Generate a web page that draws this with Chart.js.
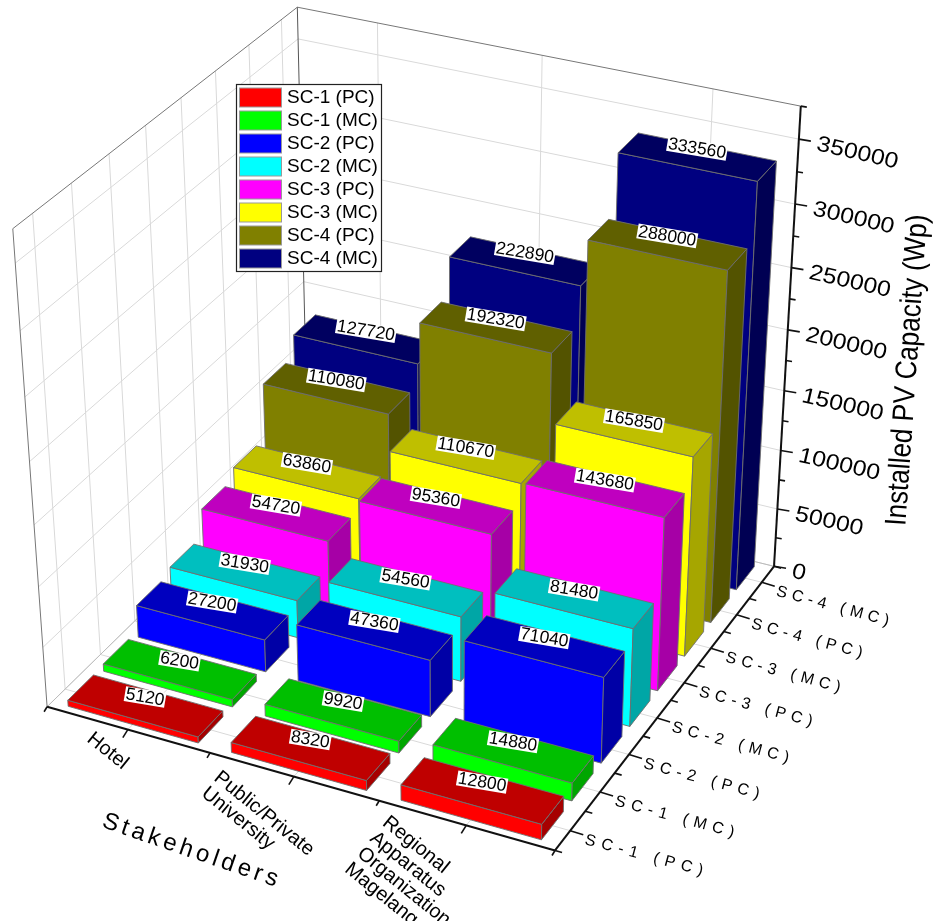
<!DOCTYPE html>
<html>
<head>
<meta charset="utf-8">
<title>Installed PV Capacity</title>
<script src="https://cdn.jsdelivr.net/npm/chart.js@4"></script>
<style>
  html, body { margin: 0; padding: 0; background: #fff; }
  canvas { display: block; }
</style>
</head>
<body>
<canvas id="grafico" width="940" height="921"></canvas>
<script>
const categories = ['Hotel', 'Public/Private University', 'Regional Apparatus Organization Magelang'];
const seriesNames = ['SC-1 (PC)', 'SC-1 (MC)', 'SC-2 (PC)', 'SC-2 (MC)', 'SC-3 (PC)', 'SC-3 (MC)', 'SC-4 (PC)', 'SC-4 (MC)'];
const sc1pc = [5120, 8320, 12800];
const sc1mc = [6200, 9920, 14880];
const sc2pc = [27200, 47360, 71040];
const sc2mc = [31930, 54560, 81480];
const sc3pc = [54720, 95360, 143680];
const sc3mc = [63860, 110670, 165850];
const sc4pc = [110080, 192320, 288000];
const sc4mc = [127720, 222890, 333560];
const seriesValues = [sc1pc, sc1mc, sc2pc, sc2mc, sc3pc, sc3mc, sc4pc, sc4mc];
const seriesColors = ['#ff0000', '#00ff00', '#0000ff', '#00ffff', '#ff00ff', '#ffff00', '#808000', '#000080'];
const yMax = 375000;
const yStep = 25000;

const FONT = '"Liberation Sans", Arial, sans-serif';
const BAR_WIDTH = 0.8;   // share of a category cell
const BAR_DEPTH = 0.72;  // share of a series cell

// corners of the box on the page: [u, v, w, px, py], used to fit the camera
const camPoints = [
  [0, 0, 0, 46, 705], [1, 0, 0, 555, 852], [1, 1, 0, 774, 564], [0, 1, 0, 309, 454],
  [0, 0, 1, 14, 229], [1, 1, 1, 801, 107], [0, 1, 1, 296, 6],
  [1, 1, 200000 / 375000, 788, 330], [1, 1, 50000 / 375000, 777, 509]
];

function fitCamera(points) {
  const n = 11;
  const A = [], b = [];
  for (let i = 0; i < n; i++) { A.push(new Array(n).fill(0)); b.push(0); }
  const add = (row, val) => {
    for (let i = 0; i < n; i++) {
      b[i] += row[i] * val;
      for (let j = 0; j < n; j++) A[i][j] += row[i] * row[j];
    }
  };
  points.forEach(([u, v, w, px, py]) => {
    const x = px / 1000, y = py / 1000;
    add([u, v, w, 1, 0, 0, 0, 0, -x * u, -x * v, -x * w], x);
    add([0, 0, 0, 0, u, v, w, 1, -y * u, -y * v, -y * w], y);
  });
  for (let c = 0; c < n; c++) {
    let p = c;
    for (let r = c + 1; r < n; r++) if (Math.abs(A[r][c]) > Math.abs(A[p][c])) p = r;
    [A[c], A[p]] = [A[p], A[c]];
    [b[c], b[p]] = [b[p], b[c]];
    for (let r = 0; r < n; r++) {
      if (r === c) continue;
      const f = A[r][c] / A[c][c];
      for (let k = c; k < n; k++) A[r][k] -= f * A[c][k];
      b[r] -= f * b[c];
    }
  }
  return b.map((val, i) => val / A[i][i]);
}
const cam = fitCamera(camPoints);

function project(u, v, w) {
  const d = cam[8] * u + cam[9] * v + cam[10] * w + 1;
  return [
    1000 * (cam[0] * u + cam[1] * v + cam[2] * w + cam[3]) / d,
    1000 * (cam[4] * u + cam[5] * v + cam[6] * w + cam[7]) / d
  ];
}

// scale helpers: position on each scale as a 0..1 share
function uOf(chart, idx) { const s = chart.scales.x; return (s.getPixelForValue(idx) - s.left) / s.width; }
function vOf(chart, idx) { const s = chart.scales.z; return (s.getPixelForValue(idx) - s.left) / s.width; }
function wOf(chart, val) { const s = chart.scales.y; return (s.bottom - s.getPixelForValue(val)) / s.height; }

function shade(hex, f) {
  const n = parseInt(hex.slice(1), 16);
  return 'rgb(' + Math.round((n >> 16 & 255) * f) + ',' + Math.round((n >> 8 & 255) * f) + ',' + Math.round((n & 255) * f) + ')';
}

function face(ctx, pts, color) {
  ctx.beginPath();
  pts.forEach((p, i) => i ? ctx.lineTo(p[0], p[1]) : ctx.moveTo(p[0], p[1]));
  ctx.closePath();
  ctx.fillStyle = color;
  ctx.fill();
  ctx.strokeStyle = '#6e6e6e';
  ctx.lineWidth = 0.9;
  ctx.stroke();
}

function line(ctx, a, b, color, width) {
  ctx.beginPath();
  ctx.moveTo(a[0], a[1]);
  ctx.lineTo(b[0], b[1]);
  ctx.strokeStyle = color;
  ctx.lineWidth = width;
  ctx.stroke();
}

// bar type that draws each value as a box in the projected space
class Bar3dController extends Chart.BarController {
  draw() {
    const chart = this.chart, ctx = chart.ctx;
    const color = this.getDataset().backgroundColor;
    const du = BAR_WIDTH / categories.length / 2;
    const dv = BAR_DEPTH / seriesNames.length / 2;
    const v = vOf(chart, this.index);
    ctx.save();
    for (let i = 0; i < categories.length; i++) {
      const u = uOf(chart, i);
      const w = wOf(chart, this.getParsed(i).y);
      const p = (a, b, c) => project(u + a * du, v + b * dv, c);
      face(ctx, [p(-1, -1, 0), p(1, -1, 0), p(1, -1, w), p(-1, -1, w)], color);
      face(ctx, [p(1, -1, 0), p(1, 1, 0), p(1, 1, w), p(1, -1, w)], shade(color, 0.65));
      face(ctx, [p(-1, -1, w), p(1, -1, w), p(1, 1, w), p(-1, 1, w)], shade(color, 0.75));
    }
    ctx.restore();
  }
}
Bar3dController.id = 'bar3d';
Bar3dController.defaults = Chart.BarController.defaults;
Chart.register(Bar3dController);

const wallsPlugin = {
  id: 'walls',
  beforeDatasetsDraw(chart) {
    const ctx = chart.ctx;
    const gridColor = '#d9d9d9';
    ctx.save();
    chart.scales.y.ticks.forEach(t => {
      if (t.value % 50000 !== 0) return;
      const w = wOf(chart, t.value);
      line(ctx, project(0, 0, w), project(0, 1, w), gridColor, 1);
      line(ctx, project(0, 1, w), project(1, 1, w), gridColor, 1);
    });
    categories.forEach((c, i) => {
      const u = uOf(chart, i);
      line(ctx, project(u, 1, 1), project(u, 1, 0), gridColor, 1);
      line(ctx, project(u, 0, 0), project(u, 1, 0), gridColor, 1);
    });
    seriesNames.forEach((s, j) => {
      const v = vOf(chart, j);
      line(ctx, project(0, v, 1), project(0, v, 0), gridColor, 1);
      line(ctx, project(0, v, 0), project(1, v, 0), gridColor, 1);
    });
    line(ctx, project(0, 0, 0), project(0, 1, 0), '#bbb', 1);
    line(ctx, project(0, 1, 0), project(1, 1, 0), '#bbb', 1);
    line(ctx, project(0, 0, 1), project(0, 1, 1), '#777', 1);
    line(ctx, project(0, 1, 1), project(1, 1, 1), '#777', 1);
    line(ctx, project(0, 0, 1), project(0, 0, 0), '#777', 1);
    line(ctx, project(0, 1, 1), project(0, 1, 0), '#555', 1);

    // axes and tick marks
    line(ctx, project(0, 0, 0), project(1, 0, 0), '#111', 2);
    line(ctx, project(1, 0, 0), project(1, 1, 0), '#111', 2);
    line(ctx, project(1, 1, 0), project(1, 1, 1), '#111', 2);
    chart.scales.y.ticks.forEach(t => {
      const a = project(1, 1, wOf(chart, t.value));
      const big = t.value % 50000 === 0;
      line(ctx, a, [a[0] + (big ? 12 : 6), a[1] + (big ? 2 : 1)], '#111', 1.6);
    });
    for (let i = 0; i <= 6; i++) {
      const a = project(i / 6, 0, 0);
      const big = i % 2 === 1;
      line(ctx, a, [a[0] - (big ? 5 : 3), a[1] + (big ? 8 : 5)], '#111', 1.6);
    }
    for (let j = 0; j <= 16; j++) {
      const a = project(1, j / 16, 0);
      const big = j % 2 === 1;
      line(ctx, a, [a[0] + (big ? 13 : 7), a[1] + (big ? 4 : 2)], '#111', 1.6);
    }
    ctx.restore();
  },
  afterDatasetsDraw(chart) {
    const ctx = chart.ctx;
    ctx.save();
    ctx.fillStyle = '#000';

    // value labels on the top of each box
    ctx.font = '17.5px ' + FONT;
    ctx.textAlign = 'center';
    ctx.textBaseline = 'middle';
    chart.data.datasets.forEach((ds, j) => {
      ds.data.forEach((val, i) => {
        const c = project(uOf(chart, i), vOf(chart, j), wOf(chart, val));
        const txt = String(val);
        const tw = ctx.measureText(txt).width + 2;
        ctx.save();
        ctx.translate(c[0], c[1] - 8.5);
        ctx.rotate(9.5 * Math.PI / 180);
        ctx.fillStyle = '#fff';
        ctx.fillRect(-tw / 2, -7.5, tw, 15);
        ctx.fillStyle = '#000';
        ctx.fillText(txt, 0, 0.5);
        ctx.restore();
      });
    });

    // value axis tick labels
    ctx.textAlign = 'left';
    ctx.font = '22px ' + FONT;
    chart.scales.y.ticks.forEach(t => {
      if (t.value % 50000 !== 0) return;
      const a = project(1, 1, wOf(chart, t.value));
      ctx.save();
      ctx.translate(a[0] + 18, a[1] + 5);
      ctx.rotate(13 * Math.PI / 180);
      ctx.scale(1.13, 1);
      ctx.fillText(String(t.value), 0, 0);
      ctx.restore();
    });

    // series axis labels, spacing opens up toward the viewer
    ctx.font = '16px ' + FONT;
    seriesNames.forEach((s, j) => {
      const a = project(1, vOf(chart, j), 0);
      ctx.letterSpacing = (6 - 0.15 * j) + 'px';
      ctx.save();
      ctx.translate(a[0] + 15, a[1] + 9);
      ctx.rotate(15 * Math.PI / 180);
      ctx.fillText(s, 0, 0);
      ctx.restore();
    });
    ctx.letterSpacing = '0px';

    // category labels, wrapped like the original
    const catLines = [['Hotel'], ['Public/Private', 'University'], ['Regional', 'Apparatus', 'Organization', 'Magelang']];
    const catStart = [[-32, -1], [-71, -9], [-75, -13]];
    ctx.font = '20px ' + FONT;
    ctx.textBaseline = 'top';
    catLines.forEach((lines, i) => {
      const a = project(uOf(chart, i), 0, 0);
      ctx.save();
      ctx.translate(a[0] + catStart[i][0], a[1] + catStart[i][1]);
      ctx.rotate(39 * Math.PI / 180);
      lines.forEach((l, k) => ctx.fillText(l, 0, k * 20));
      ctx.restore();
    });

    // axis titles
    ctx.textBaseline = 'middle';
    ctx.textAlign = 'center';
    ctx.font = '24px ' + FONT;
    ctx.letterSpacing = '4px';
    ctx.save();
    ctx.translate(192, 851);
    ctx.rotate(19 * Math.PI / 180);
    ctx.fillText('Stakeholders', 0, 0);
    ctx.restore();
    ctx.letterSpacing = '0px';
    ctx.font = '30px ' + FONT;
    ctx.save();
    ctx.translate(908, 370);
    ctx.rotate(-86 * Math.PI / 180);
    ctx.scale(0.87, 1);
    ctx.fillText('Installed PV Capacity (Wp)', 0, 0);
    ctx.restore();

    // legend box
    ctx.fillStyle = '#fff';
    ctx.fillRect(236.5, 84.5, 145, 187);
    ctx.strokeStyle = '#222';
    ctx.lineWidth = 1.2;
    ctx.strokeRect(236.5, 84.5, 145, 187);
    ctx.font = '19px ' + FONT;
    ctx.textAlign = 'left';
    seriesNames.forEach((s, j) => {
      const y = 88 + j * 23;
      ctx.fillStyle = seriesColors[j];
      ctx.fillRect(239.5, y, 42, 19);
      ctx.strokeStyle = '#999';
      ctx.lineWidth = 1;
      ctx.strokeRect(239.5, y, 42, 19);
      ctx.fillStyle = '#000';
      ctx.fillText(s, 287, y + 10);
    });
    ctx.restore();
  }
};

new Chart(document.getElementById('grafico'), {
  type: 'bar3d',
  data: {
    labels: categories,
    datasets: seriesNames.map((name, j) => ({
      label: name,
      data: seriesValues[j],
      backgroundColor: seriesColors[j]
    }))
  },
  options: {
    responsive: false,
    animation: false,
    layout: { padding: 0 },
    scales: {
      x: { type: 'category', offset: true, display: false, ticks: { autoSkip: false } },
      z: { type: 'category', axis: 'x', position: 'bottom', labels: seriesNames, offset: true, display: false, ticks: { autoSkip: false } },
      y: { type: 'linear', min: 0, max: yMax, display: false, ticks: { stepSize: yStep, autoSkip: false } }
    },
    plugins: { legend: { display: false }, tooltip: { enabled: false } }
  },
  plugins: [wallsPlugin]
});
</script>
</body>
</html>
